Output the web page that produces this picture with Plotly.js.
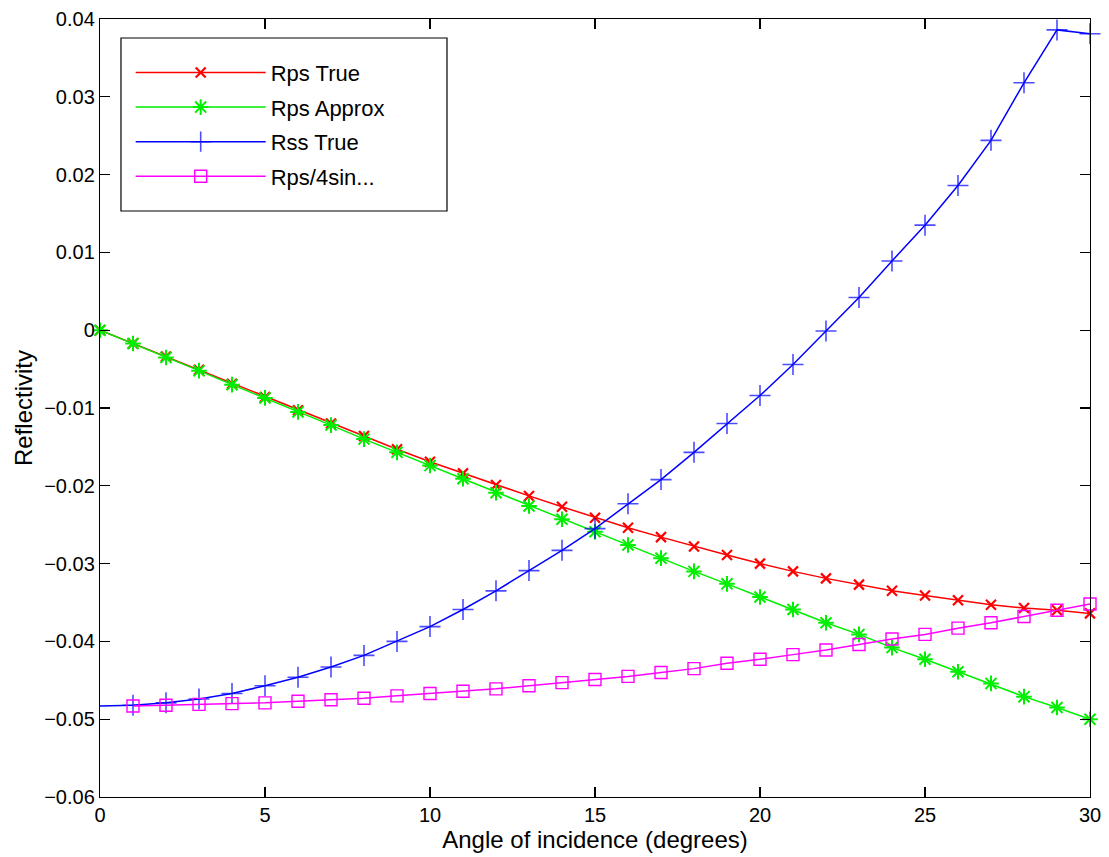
<!DOCTYPE html>
<html>
<head>
<meta charset="utf-8">
<script src="https://cdn.plot.ly/plotly-3.0.1.min.js"></script>
<style>html,body{margin:0;padding:0;background:#fff;}#chart{width:1109px;height:857px;}</style>
</head>
<body>
<div id="chart"></div>
<script>
const angles = [0,1,2,3,4,5,6,7,8,9,10,11,12,13,14,15,16,17,18,19,20,21,22,23,24,25,26,27,28,29,30];
const rpsTrue = [0,-0.0017,-0.0034,-0.0051,-0.0069,-0.0086,-0.0103,-0.0120,-0.0136,-0.0153,-0.0169,-0.0184,-0.0199,-0.0213,-0.0227,-0.0241,-0.0254,-0.0266,-0.0278,-0.0289,-0.0300,-0.0310,-0.0319,-0.0327,-0.0335,-0.0341,-0.0347,-0.0353,-0.0357,-0.0360,-0.0364];
const rpsApprox = [0,-0.0017,-0.0035,-0.0052,-0.0070,-0.0087,-0.0105,-0.0122,-0.0140,-0.0157,-0.0174,-0.0191,-0.0209,-0.0226,-0.0243,-0.0259,-0.0276,-0.0293,-0.0310,-0.0326,-0.0343,-0.0359,-0.0376,-0.0391,-0.0408,-0.0423,-0.0439,-0.0454,-0.0471,-0.0485,-0.0500];
const rssTrue = [-0.0483,-0.0482,-0.0479,-0.0474,-0.0467,-0.0457,-0.0446,-0.0433,-0.0418,-0.0400,-0.0381,-0.0359,-0.0335,-0.0309,-0.0283,-0.0255,-0.0223,-0.0192,-0.0157,-0.0120,-0.0084,-0.0044,-0.0001,0.0042,0.0089,0.0135,0.0186,0.0244,0.0318,0.0386,0.0381];
const sinAngles = [1,2,3,4,5,6,7,8,9,10,11,12,13,14,15,16,17,18,19,20,21,22,23,24,25,26,27,28,29,30];
const rpsOver4sin = [-0.0483,-0.0482,-0.0481,-0.0480,-0.0479,-0.0477,-0.0475,-0.0473,-0.0470,-0.0467,-0.0464,-0.0461,-0.0457,-0.0453,-0.0449,-0.0445,-0.0440,-0.0435,-0.0428,-0.0423,-0.0417,-0.0411,-0.0404,-0.0397,-0.0391,-0.0383,-0.0376,-0.0368,-0.0360,-0.0352];
const names = ["Rps True","Rps Approx","Rss True","Rps/4sin..."];
const xTicks = [0,5,10,15,20,25,30];
const yTicks = [-0.06,-0.05,-0.04,-0.03,-0.02,-0.01,0,0.01,0.02,0.03,0.04];
const yTickText = ["\u22120.06","\u22120.05","\u22120.04","\u22120.03","\u22120.02","\u22120.01","0","0.01","0.02","0.03","0.04"];

const font = "Liberation Sans, Arial, Helvetica, sans-serif";
const traces = [
  {x: angles, y: rpsTrue, name: names[0], legendgroup: "a", mode: "lines+markers", cliponaxis: false,
   line: {color: "#ff0000", width: 1.5}, marker: {symbol: "x-thin-open", size: 10, line: {color: "#ff0000", width: 2.2}}},
  {x: angles, y: rpsApprox, name: names[1], legendgroup: "b", mode: "lines+markers", cliponaxis: false,
   line: {color: "#00ee00", width: 1.5}, marker: {symbol: "asterisk-open", size: 13, line: {color: "#00ee00", width: 2}}},
  {x: angles, y: rssTrue, name: names[2], legendgroup: "c", mode: "lines+markers", cliponaxis: false,
   line: {color: "#0000ff", width: 1.5}, marker: {symbol: "cross-thin-open", size: angles.map(a => a === 0 ? 0 : 15), line: {color: "#0000ff", width: 1.6}}},
  {x: sinAngles, y: rpsOver4sin, name: names[3], legendgroup: "d", mode: "lines+markers", cliponaxis: false,
   line: {color: "#ff00ff", width: 1.5}, marker: {symbol: "square-open", size: 12, color: "#ff00ff", line: {color: "#ff00ff", width: 1.4}}}
];

const layout = {
  width: 1109, height: 857,
  margin: {l: 100, r: 19, t: 19, b: 60},
  paper_bgcolor: "#ffffff", plot_bgcolor: "#ffffff",
  font: {family: font, size: 20, color: "#000"},
  showlegend: true,
  legend: {x: 0.031, y: 0.958, xanchor: "left", yanchor: "top", borderwidth: 0,
           bgcolor: "rgba(0,0,0,0)", font: {family: font, size: 22}, itemwidth: 130, tracegroupgap: 3},
  shapes: [{type: "rect", xref: "paper", yref: "paper", x0: 0.0212, x1: 0.3505, y0: 0.7532, y1: 0.9756,
            line: {color: "#000", width: 1.2}, fillcolor: "rgba(0,0,0,0)", layer: "above"}],
  xaxis: {range: [0, 30], tickvals: xTicks, ticks: "inside", ticklen: 10, tickwidth: 1.2, tickcolor: "#000",
          showline: true, linecolor: "#000", linewidth: 1.2, mirror: "ticks", showgrid: false, zeroline: false,
          tickfont: {size: 20}, title: {text: "Angle of incidence (degrees)", font: {size: 24}, standoff: 2}},
  yaxis: {range: [-0.06, 0.04], tickvals: yTicks, ticktext: yTickText, ticks: "inside", ticklen: 10, tickwidth: 1.2, tickcolor: "#000",
          showline: true, linecolor: "#000", linewidth: 1.2, mirror: "ticks", showgrid: false, zeroline: false,
          tickfont: {size: 20}, title: {text: "Reflectivity", font: {size: 24}, standoff: 4}}
};
Plotly.newPlot("chart", traces, layout, {displayModeBar: false, staticPlot: true});
</script>
</body>
</html>
